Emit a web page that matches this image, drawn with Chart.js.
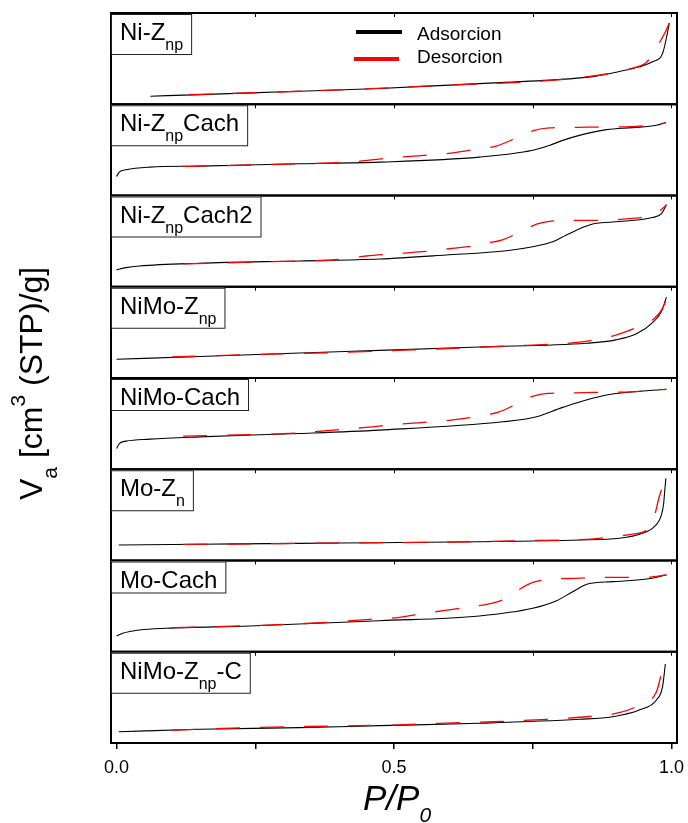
<!DOCTYPE html>
<html lang="es">

<head>
    <meta charset="UTF-8">
    <title>Isotermas de adsorcion-desorcion</title>
    <script src="https://cdn.jsdelivr.net/npm/chart.js"></script>
    <style>
        body { margin: 0; background: #fff; }
    </style>
</head>

<body>

    <canvas id="isoChart" width="688" height="823"></canvas>

    <script>
        // P/P0 ticks on the shared x axis
        const xTicks = [0, 0.25, 0.5, 0.75, 1.0];
        const xTickLabels = ['0.0', '', '0.5', '', '1.0'];

        const seriesNames = ['Adsorcion', 'Desorcion'];

        // panel labels (top to bottom): main text, subscript, tail
        const labelMain = ['Ni-Z', 'Ni-Z', 'Ni-Z', 'NiMo-Z', 'NiMo-Cach', 'Mo-Z', 'Mo-Cach', 'NiMo-Z'];
        const labelSub = ['np', 'np', 'np', 'np', '', 'n', '', 'np'];
        const labelTail = ['', 'Cach', 'Cach2', '', '', '', '', '-C'];

        // volume adsorbed (relative, each panel scaled 0-100) vs P/P0
        const niZnpAds = [[0.061, 8.8], [0.15, 10.6], [0.3, 13.7], [0.474, 17.3], [0.6, 21.0], [0.7, 24.0], [0.781, 26.4],
            [0.864, 30.8], [0.906, 35.9], [0.942, 41.0], [0.966, 46.5], [0.984, 55.7], [0.992, 75.8], [0.996, 89.0]];
        const niZnpDes = [[0.13, 10.4], [0.25, 12.6], [0.4, 15.8], [0.6, 21.0], [0.8, 27.0], [0.9, 35.0], [0.93, 39.6],
            [0.955, 46.0], [0.978, 67.0], [0.988, 78.0], [0.996, 89.0]];

        const niZnpCachAds = [[0, 20.9], [0.005, 25.6], [0.017, 28.2], [0.06, 31.1], [0.15, 32.2], [0.33, 34.8], [0.474, 36.6],
            [0.654, 42.1], [0.75, 49.5], [0.78, 54.9], [0.804, 60.4], [0.834, 65.9], [0.883, 72.2], [0.93, 74.4], [0.973, 76.9], [0.99, 79.9]];
        const niZnpCachDes = [[0.12, 31.9], [0.15, 32.2], [0.33, 34.8], [0.42, 36.6], [0.497, 41.4], [0.555, 44.0], [0.603, 46.5],
            [0.654, 51.3], [0.684, 54.2], [0.738, 67.8], [0.753, 71.4], [0.78, 74.0], [0.83, 74.7], [0.883, 75.1], [0.937, 75.8], [0.978, 78.0], [0.99, 79.9]];

        const niZnpCach2Ads = [[0, 18.5], [0.017, 21.0], [0.041, 22.8], [0.15, 25.8], [0.33, 28.3], [0.474, 30.4], [0.594, 34.8],
            [0.703, 39.5], [0.75, 43.8], [0.786, 49.2], [0.81, 56.5], [0.855, 68.2], [0.894, 71.0], [0.966, 75.8], [0.982, 80.1], [0.991, 89.9]];
        const niZnpCach2Des = [[0.12, 25.0], [0.33, 28.3], [0.39, 29.3], [0.45, 33.7], [0.503, 36.2], [0.551, 38.4], [0.605, 42.1],
            [0.645, 44.9], [0.663, 47.5], [0.694, 51.1], [0.748, 66.3], [0.757, 68.5], [0.78, 71.7], [0.825, 72.8], [0.875, 72.8],
            [0.924, 74.7], [0.966, 78.3], [0.978, 82.9], [0.987, 87.3], [0.991, 89.9]];

        const niMoZnpAds = [[0, 20.5], [0.15, 23.6], [0.33, 27.4], [0.474, 30.3], [0.654, 34.0], [0.847, 38.1], [0.9, 41.8],
            [0.937, 48.4], [0.966, 60.8], [0.982, 72.9], [0.991, 88.7]];
        const niMoZnpDes = [[0.1, 23.0], [0.24, 25.6], [0.39, 27.8], [0.533, 30.8], [0.627, 33.0], [0.726, 35.5], [0.78, 37.0],
            [0.834, 39.2], [0.897, 46.5], [0.939, 55.7], [0.966, 63.7], [0.987, 80.2], [0.991, 88.7]];

        const niMoCachAds = [[0, 22.7], [0.005, 28.2], [0.017, 30.8], [0.06, 33.0], [0.15, 35.5], [0.33, 39.2], [0.474, 42.9],
            [0.696, 52.0], [0.757, 57.5], [0.804, 67.8], [0.883, 81.3], [0.991, 87.6]];
        const niMoCachDes = [[0.12, 36.3], [0.33, 39.9], [0.42, 44.5], [0.45, 45.8], [0.503, 49.1], [0.543, 50.9], [0.603, 53.8],
            [0.648, 57.5], [0.667, 59.7], [0.687, 62.3], [0.726, 72.9], [0.748, 79.5], [0.777, 83.2], [0.825, 83.8], [0.874, 84.3],
            [0.928, 84.9], [0.966, 86.5], [0.991, 87.6]];

        const moZnAds = [[0.004, 17.0], [0.15, 17.8], [0.33, 18.8], [0.474, 19.5], [0.654, 20.6], [0.834, 22.5], [0.906, 24.3],
            [0.948, 29.8], [0.969, 37.0], [0.982, 49.9], [0.986, 62.7], [0.988, 77.3], [0.99, 90.1]];
        const moZnDes = [[0.12, 17.7], [0.3, 18.6], [0.5, 19.6], [0.654, 20.6], [0.726, 21.7], [0.847, 23.2], [0.894, 26.1],
            [0.93, 29.0], [0.955, 33.4], [0.969, 48.0], [0.978, 69.9], [0.99, 90.1]];

        const moCachAds = [[0, 17.3], [0.011, 20.2], [0.041, 23.8], [0.09, 25.7], [0.24, 28.2], [0.474, 34.0], [0.654, 39.2],
            [0.75, 47.6], [0.793, 55.9], [0.822, 65.8], [0.849, 74.2], [0.894, 76.8], [0.955, 79.7], [0.991, 84.1]];
        const moCachDes = [[0.1, 26.4], [0.24, 28.6], [0.39, 32.6], [0.456, 35.5], [0.51, 37.7], [0.555, 42.1], [0.609, 46.8],
            [0.66, 51.2], [0.681, 53.8], [0.7, 58.0], [0.725, 68.0], [0.75, 76.0], [0.78, 79.4], [0.829, 80.5], [0.876, 81.6],
            [0.955, 81.6], [0.991, 84.1]];

        const niMoZnpCAds = [[0.004, 12.4], [0.15, 15.0], [0.33, 16.8], [0.474, 19.0], [0.654, 21.6], [0.834, 26.0], [0.894, 28.8],
            [0.942, 36.2], [0.973, 47.1], [0.984, 61.7], [0.989, 86.6]];
        const niMoZnpCDes = [[0.1, 14.2], [0.24, 16.8], [0.39, 18.6], [0.51, 19.9], [0.582, 21.6], [0.678, 23.3], [0.775, 26.0],
            [0.834, 28.2], [0.906, 33.2], [0.942, 41.6], [0.973, 56.2], [0.984, 80.0], [0.989, 86.6]];

        const adsSeries = [niZnpAds, niZnpCachAds, niZnpCach2Ads, niMoZnpAds, niMoCachAds, moZnAds, moCachAds, niMoZnpCAds];
        const desSeries = [niZnpDes, niZnpCachDes, niZnpCach2Des, niMoZnpDes, niMoCachDes, moZnDes, moCachDes, niMoZnpCDes];

        const FONT = "'Liberation Sans', Arial, sans-serif";
        Chart.defaults.font.family = FONT;

        const toXY = arr => arr.map(p => ({ x: p[0], y: p[1] }));

        const scales = {
            x: {
                type: 'linear',
                min: -0.01,
                max: 1.01,
                afterBuildTicks: s => { s.ticks = xTicks.map(v => ({ value: v })); },
                afterFit: s => {
                    s.height = 80;
                    // keep the tick labels from shrinking the plot area
                    s.paddingLeft = 0;
                    s.paddingRight = 0;
                },
                ticks: {
                    callback: (v, i) => xTickLabels[i],
                    font: { size: 18 },
                    color: '#000',
                    padding: 8,
                    maxRotation: 0,
                    autoSkip: false
                },
                grid: { drawOnChartArea: false, drawTicks: true, tickLength: 6, color: '#000', lineWidth: 1.5 },
                border: { display: true, color: '#000', width: 2 }
            }
        };
        // the layout stacks the axes bottom-up, so add them last panel first
        for (let i = adsSeries.length - 1; i >= 0; i--) {
            scales['y' + i] = { type: 'linear', min: 0, max: 100, display: false, position: 'left', stack: 'panels', stackWeight: 1 };
        }

        const datasets = [];
        adsSeries.forEach((ads, i) => {
            datasets.push({
                label: seriesNames[0],
                data: toXY(ads),
                yAxisID: 'y' + i,
                borderColor: '#000',
                borderWidth: 1.1,
                pointRadius: 0,
                cubicInterpolationMode: 'monotone',
                order: 2
            });
            datasets.push({
                label: seriesNames[1],
                data: toXY(desSeries[i]),
                yAxisID: 'y' + i,
                borderColor: '#ff0000',
                borderWidth: 1.3,
                borderDash: [24, 20],
                pointRadius: 0,
                cubicInterpolationMode: 'monotone',
                order: 1
            });
        });

        // draws text pieces (normal / sub / superscript) one after another
        function drawParts(ctx, x, y, parts) {
            let cx = x;
            parts.forEach(p => {
                if (!p.t) return;
                ctx.font = (p.style || '') + ' ' + p.size + 'px ' + FONT;
                ctx.fillText(p.t, cx, y + (p.dy || 0));
                cx += ctx.measureText(p.t).width;
            });
            return cx - x;
        }

        const panelDecor = {
            id: 'panelDecor',
            afterDatasetsDraw(chart) {
                const ctx = chart.ctx;
                const area = chart.chartArea;
                const xs = chart.scales.x;
                ctx.save();
                ctx.strokeStyle = '#000';
                ctx.fillStyle = '#000';

                // panel frames and small ticks
                adsSeries.forEach((a, i) => {
                    const s = chart.scales['y' + i];
                    ctx.lineWidth = 2;
                    ctx.strokeRect(area.left, s.top, area.right - area.left, s.bottom - s.top);
                    ctx.lineWidth = 1;
                    xTicks.forEach(v => {
                        const px = Math.round(xs.getPixelForValue(v)) + 0.5;
                        ctx.beginPath();
                        ctx.moveTo(px, s.top);
                        ctx.lineTo(px, s.top + 4);
                        ctx.stroke();
                    });
                });

                // label boxes
                ctx.textBaseline = 'alphabetic';
                adsSeries.forEach((a, i) => {
                    const s = chart.scales['y' + i];
                    const parts = [
                        { t: labelMain[i], size: 24 },
                        { t: labelSub[i], size: 16, dy: 10 },
                        { t: labelTail[i], size: 24 }
                    ];
                    let w = 0;
                    parts.forEach(p => {
                        if (!p.t) return;
                        ctx.font = p.size + 'px ' + FONT;
                        w += ctx.measureText(p.t).width;
                    });
                    const left = area.left;
                    const top = s.top + 1;
                    const h = labelSub[i] ? 40 : 31;
                    ctx.fillStyle = '#fff';
                    ctx.fillRect(left, top, w + 17, h);
                    ctx.strokeStyle = '#222';
                    ctx.lineWidth = 1;
                    ctx.strokeRect(left + 0.5, top + 0.5, w + 17, h);
                    ctx.fillStyle = '#000';
                    drawParts(ctx, left + 9, top + 26, parts);
                });

                // legend in the first panel
                const lx = area.left;
                ctx.lineWidth = 4;
                ctx.strokeStyle = '#000';
                ctx.beginPath();
                ctx.moveTo(lx + 245, area.top + 19);
                ctx.lineTo(lx + 291, area.top + 19);
                ctx.stroke();
                ctx.strokeStyle = '#ff0000';
                ctx.beginPath();
                ctx.moveTo(lx + 243, area.top + 46);
                ctx.lineTo(lx + 288, area.top + 46);
                ctx.stroke();
                ctx.fillStyle = '#000';
                ctx.font = '19px ' + FONT;
                ctx.fillText(seriesNames[0], lx + 306, area.top + 27);
                ctx.fillText(seriesNames[1], lx + 306, area.top + 50);

                // x title P/P0
                drawParts(ctx, 363, 810, [
                    { t: 'P/P', size: 35, style: 'italic' },
                    { t: '0', size: 21, style: 'italic', dy: 12 }
                ]);

                // y title
                ctx.translate(42, 500);
                ctx.rotate(-Math.PI / 2);
                drawParts(ctx, 0, 0, [
                    { t: 'V', size: 32 },
                    { t: 'a', size: 21, dy: 15 },
                    { t: ' [cm', size: 32 },
                    { t: '3', size: 21, dy: -17 },
                    { t: ' (STP)/g]', size: 32 }
                ]);
                ctx.restore();
            }
        };

        new Chart(document.getElementById('isoChart').getContext('2d'), {
            type: 'line',
            data: { datasets: datasets },
            options: {
                responsive: false,
                animation: false,
                devicePixelRatio: 1,
                layout: { padding: { left: 111, right: 11, top: 13, bottom: 0 } },
                plugins: { legend: { display: false }, tooltip: { enabled: false } },
                scales: scales
            },
            plugins: [panelDecor]
        });
    </script>

</body>

</html>
